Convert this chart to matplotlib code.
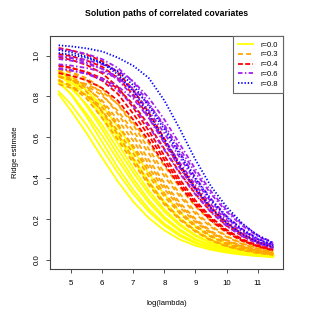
import matplotlib
matplotlib.use("Agg")
import matplotlib.pyplot as plt
from matplotlib.lines import Line2D

plt.rcParams["font.family"] = ["Liberation Sans", "DejaVu Sans"]

log_lambda = [4.6, 5.0, 5.5, 6.0, 6.5, 7.0, 7.5, 8.0, 8.5, 9.0, 9.5, 10.0, 10.5, 11.0, 11.5]

# r = 0.0
paths_r00 = [
    [0.812, 0.730, 0.620, 0.500, 0.385, 0.285, 0.205, 0.145, 0.100, 0.070, 0.050, 0.036, 0.026, 0.019, 0.014],
    [0.825, 0.761, 0.660, 0.543, 0.427, 0.323, 0.236, 0.168, 0.117, 0.081, 0.057, 0.041, 0.030, 0.021, 0.016],
    [0.877, 0.809, 0.700, 0.577, 0.453, 0.343, 0.250, 0.178, 0.125, 0.087, 0.061, 0.043, 0.032, 0.023, 0.016],
    [0.865, 0.813, 0.715, 0.608, 0.490, 0.377, 0.279, 0.201, 0.142, 0.098, 0.069, 0.049, 0.035, 0.025, 0.019],
    [0.909, 0.855, 0.752, 0.639, 0.515, 0.397, 0.294, 0.211, 0.149, 0.103, 0.072, 0.052, 0.037, 0.027, 0.020],
    [0.881, 0.839, 0.761, 0.660, 0.543, 0.427, 0.323, 0.236, 0.168, 0.117, 0.081, 0.057, 0.041, 0.030, 0.021],
    [0.926, 0.882, 0.801, 0.694, 0.571, 0.449, 0.340, 0.248, 0.176, 0.123, 0.086, 0.060, 0.043, 0.032, 0.022],
    [0.900, 0.868, 0.805, 0.708, 0.601, 0.485, 0.373, 0.276, 0.199, 0.141, 0.097, 0.068, 0.049, 0.035, 0.025],
    [0.928, 0.895, 0.830, 0.730, 0.620, 0.500, 0.385, 0.285, 0.205, 0.145, 0.100, 0.070, 0.050, 0.036, 0.026],
    [0.905, 0.880, 0.830, 0.754, 0.653, 0.538, 0.422, 0.320, 0.233, 0.166, 0.116, 0.081, 0.057, 0.040, 0.030],
]

# r = 0.3
paths_r03 = [
    [0.882, 0.850, 0.789, 0.694, 0.589, 0.475, 0.366, 0.271, 0.195, 0.138, 0.095, 0.067, 0.048, 0.034, 0.025],
    [0.919, 0.886, 0.822, 0.723, 0.614, 0.495, 0.381, 0.282, 0.203, 0.144, 0.099, 0.069, 0.050, 0.036, 0.026],
    [0.877, 0.853, 0.804, 0.730, 0.632, 0.521, 0.409, 0.310, 0.226, 0.161, 0.113, 0.078, 0.055, 0.039, 0.029],
    [0.924, 0.899, 0.848, 0.769, 0.666, 0.549, 0.431, 0.326, 0.238, 0.170, 0.119, 0.082, 0.058, 0.041, 0.030],
    [0.898, 0.879, 0.841, 0.780, 0.686, 0.583, 0.470, 0.362, 0.268, 0.193, 0.136, 0.094, 0.066, 0.047, 0.034],
    [0.936, 0.916, 0.877, 0.813, 0.715, 0.608, 0.490, 0.377, 0.279, 0.201, 0.142, 0.098, 0.069, 0.049, 0.035],
    [0.897, 0.882, 0.853, 0.804, 0.730, 0.632, 0.521, 0.409, 0.310, 0.226, 0.161, 0.113, 0.078, 0.055, 0.039],
    [0.936, 0.920, 0.889, 0.839, 0.761, 0.660, 0.543, 0.427, 0.323, 0.236, 0.168, 0.117, 0.081, 0.057, 0.041],
    [0.894, 0.883, 0.860, 0.823, 0.764, 0.672, 0.570, 0.460, 0.354, 0.262, 0.189, 0.133, 0.092, 0.064, 0.046],
    [0.860, 0.842, 0.806, 0.747, 0.657, 0.558, 0.450, 0.347, 0.257, 0.185, 0.131, 0.090, 0.063, 0.045, 0.032],
]

# r = 0.4
paths_r04 = [
    [0.953, 0.941, 0.916, 0.877, 0.813, 0.715, 0.608, 0.490, 0.377, 0.279, 0.201, 0.142, 0.098, 0.069, 0.049],
    [0.991, 0.979, 0.954, 0.913, 0.847, 0.745, 0.632, 0.510, 0.393, 0.291, 0.209, 0.148, 0.102, 0.071, 0.051],
    [0.949, 0.939, 0.920, 0.889, 0.839, 0.761, 0.660, 0.543, 0.427, 0.323, 0.236, 0.168, 0.117, 0.081, 0.057],
    [0.914, 0.902, 0.879, 0.841, 0.780, 0.686, 0.583, 0.470, 0.362, 0.268, 0.193, 0.136, 0.094, 0.066, 0.047],
    [1.007, 0.997, 0.976, 0.945, 0.891, 0.809, 0.700, 0.577, 0.453, 0.343, 0.250, 0.178, 0.125, 0.087, 0.061],
    [1.037, 1.026, 1.005, 0.972, 0.917, 0.832, 0.721, 0.594, 0.466, 0.353, 0.258, 0.183, 0.128, 0.089, 0.063],
]

# r = 0.6
paths_r06 = [
    [0.939, 0.929, 0.910, 0.880, 0.830, 0.754, 0.653, 0.538, 0.422, 0.320, 0.233, 0.166, 0.116, 0.081, 0.057],
    [0.998, 0.987, 0.967, 0.935, 0.882, 0.801, 0.694, 0.571, 0.449, 0.340, 0.248, 0.176, 0.123, 0.086, 0.060],
    [0.934, 0.926, 0.912, 0.888, 0.850, 0.789, 0.694, 0.589, 0.475, 0.366, 0.271, 0.195, 0.138, 0.095, 0.067],
    [0.983, 0.975, 0.960, 0.935, 0.895, 0.830, 0.730, 0.620, 0.500, 0.385, 0.285, 0.205, 0.145, 0.100, 0.070],
    [1.032, 1.024, 1.008, 0.982, 0.940, 0.872, 0.767, 0.651, 0.525, 0.404, 0.299, 0.215, 0.152, 0.105, 0.074],
    [0.957, 0.951, 0.939, 0.920, 0.889, 0.839, 0.761, 0.660, 0.543, 0.427, 0.323, 0.236, 0.168, 0.117, 0.081],
    [0.997, 0.990, 0.978, 0.957, 0.926, 0.874, 0.793, 0.687, 0.566, 0.444, 0.336, 0.245, 0.175, 0.122, 0.085],
]

# r = 0.8
paths_r08 = [
    [1.050, 1.045, 1.035, 1.020, 0.990, 0.950, 0.890, 0.780, 0.640, 0.490, 0.360, 0.260, 0.180, 0.120, 0.082],
    [1.012, 1.004, 0.989, 0.963, 0.922, 0.855, 0.752, 0.639, 0.515, 0.397, 0.294, 0.211, 0.149, 0.103, 0.072],
    [1.027, 1.016, 0.995, 0.963, 0.908, 0.824, 0.714, 0.588, 0.462, 0.350, 0.255, 0.182, 0.127, 0.088, 0.062],
]

labels = ["r=0.0", "r=0.3", "r=0.4", "r=0.6", "r=0.8"]
colors = ["#FFFF00", "#FFA500", "#FF0000", "#A020F0", "#0000FF"]
dashes = [None, (2.7, 1.8), (2.7, 1.3), (2.5, 1.3, 0.8, 1.3), (0.75, 1.05)]
groups = [paths_r00, paths_r03, paths_r04, paths_r06, paths_r08]

fig = plt.figure(figsize=(3.15, 3.15), dpi=100)
ax = fig.add_axes([0.159, 0.146, 0.739, 0.740])

lw = 1.3
for paths, col, dash in zip(groups, colors, dashes):
    for y in paths:
        line, = ax.plot(log_lambda, y, color=col, lw=lw)
        if dash is not None:
            line.set_dashes(dash)

ax.set_xlim(4.325, 11.81)
ax.set_ylim(-0.044, 1.096)
ax.set_xticks([5, 6, 7, 8, 9, 10, 11])
ax.set_yticks([0.0, 0.2, 0.4, 0.6, 0.8, 1.0])
ax.set_yticklabels(["0.0", "0.2", "0.4", "0.6", "0.8", "1.0"], rotation=90, va="center")
ax.tick_params(axis="both", labelsize=5.7, length=3, width=0.6, color="#333333")
ax.tick_params(axis="x", pad=5)
ax.tick_params(axis="y", pad=4)
for s in ax.spines.values():
    s.set_linewidth(0.8)
    s.set_color("#444444")

ax.set_xlabel("log(lambda)", fontsize=5.5, labelpad=9)
ax.set_ylabel("Ridge estimate", fontsize=5.5, labelpad=10)
ax.set_title("Solution paths of correlated covariates", fontsize=6.3,
             fontweight="bold", pad=14)

handles = []
for col, dash in zip(colors, dashes):
    h = Line2D([], [], color=col, lw=lw)
    if dash is not None:
        h.set_dashes(dash)
    handles.append(h)
leg = ax.legend(handles, labels, loc="upper right", bbox_to_anchor=(1, 1),
                borderaxespad=0, fontsize=5.5, handlelength=2.0,
                handletextpad=0.9, labelspacing=0.32, borderpad=0.7,
                fancybox=False, framealpha=1, edgecolor="#666666")
leg.get_frame().set_linewidth(0.8)

fig.savefig("out.png", dpi=100)
